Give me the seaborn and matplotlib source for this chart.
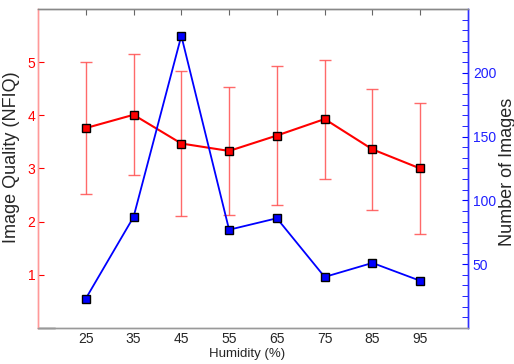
import numpy as np
import pandas as pd
import seaborn as sns
import matplotlib.pyplot as plt
from matplotlib.ticker import FixedLocator

# values
humidity = [25, 35, 45, 55, 65, 75, 85, 95]
nfiq_mean = [3.76, 4.01, 3.47, 3.33, 3.62, 3.93, 3.36, 3.00]
nfiq_std = [1.24, 1.14, 1.37, 1.20, 1.30, 1.12, 1.14, 1.24]
n_images = [23, 87, 229, 77, 86, 40, 51, 37]

df = pd.DataFrame({'humidity': humidity, 'nfiq': nfiq_mean,
                   'std': nfiq_std, 'images': n_images})

sns.set_style("white")
plt.rcParams['font.family'] = ['Liberation Sans', 'DejaVu Sans']

fig = plt.figure(figsize=(5.14, 3.64), dpi=100)
ax = fig.add_axes([0.0739, 0.0989, 0.8366, 0.8764])

# NFIQ with error bars (left axis)
ax.errorbar(df['humidity'], df['nfiq'], yerr=df['std'], fmt='none',
            ecolor='#ff5050', elinewidth=1, capsize=4, capthick=1, alpha=0.85)
sns.lineplot(data=df, x='humidity', y='nfiq', ax=ax, color='red', marker='s',
             markersize=5.5, markeredgecolor='black', markeredgewidth=1,
             linewidth=1.5)

ax.set_xlim(15, 105)
ax.set_ylim(0, 6)
ax.set_xticks(humidity)
ax.set_yticks([1, 2, 3, 4, 5])
ax.tick_params(axis='x', direction='in', top=True, length=4, color='#666666',
               labelsize=10, pad=3)
ax.tick_params(axis='y', direction='in', length=4, color='red',
               labelcolor='red', labelsize=10, pad=2)
ax.set_xlabel('Humidity (%)', fontsize=9.5)
ax.set_ylabel('Image Quality (NFIQ)', fontsize=13)
ax.xaxis.set_label_coords(0.486, -0.064)
ax.yaxis.set_label_coords(-0.042, 0.536)

# number of images (right axis)
ax2 = ax.twinx()
sns.lineplot(data=df, x='humidity', y='images', ax=ax2, color='blue', marker='s',
             markersize=5.5, markeredgecolor='black', markeredgewidth=1,
             linewidth=1.3)
ax2.set_ylim(0, 250)
ax2.set_yticks([50, 100, 150, 200])
ax2.yaxis.set_minor_locator(FixedLocator(np.linspace(0, 250, 31)))
ax2.tick_params(axis='y', which='both', direction='in', length=4, color='blue',
                labelcolor='#2020ff', labelsize=10, pad=3.5)
ax2.set_ylabel('Number of Images', fontsize=13)
ax2.yaxis.set_label_coords(1.071, 0.489)
ax2.set_xlabel('')

for a in (ax, ax2):
    a.spines['top'].set_color('#888888')
    a.spines['bottom'].set_color('#999999')
    a.spines['left'].set_color('#ff9999')
    a.spines['right'].set_color('#3030ff')
    for s in a.spines.values():
        s.set_linewidth(1)

# short dark piece at the left end of the bottom spine
ax.plot([0, 0.04], [0, 0], transform=ax.transAxes, color='#333333', lw=1,
        clip_on=False)

fig.savefig('out.png', dpi=100)
